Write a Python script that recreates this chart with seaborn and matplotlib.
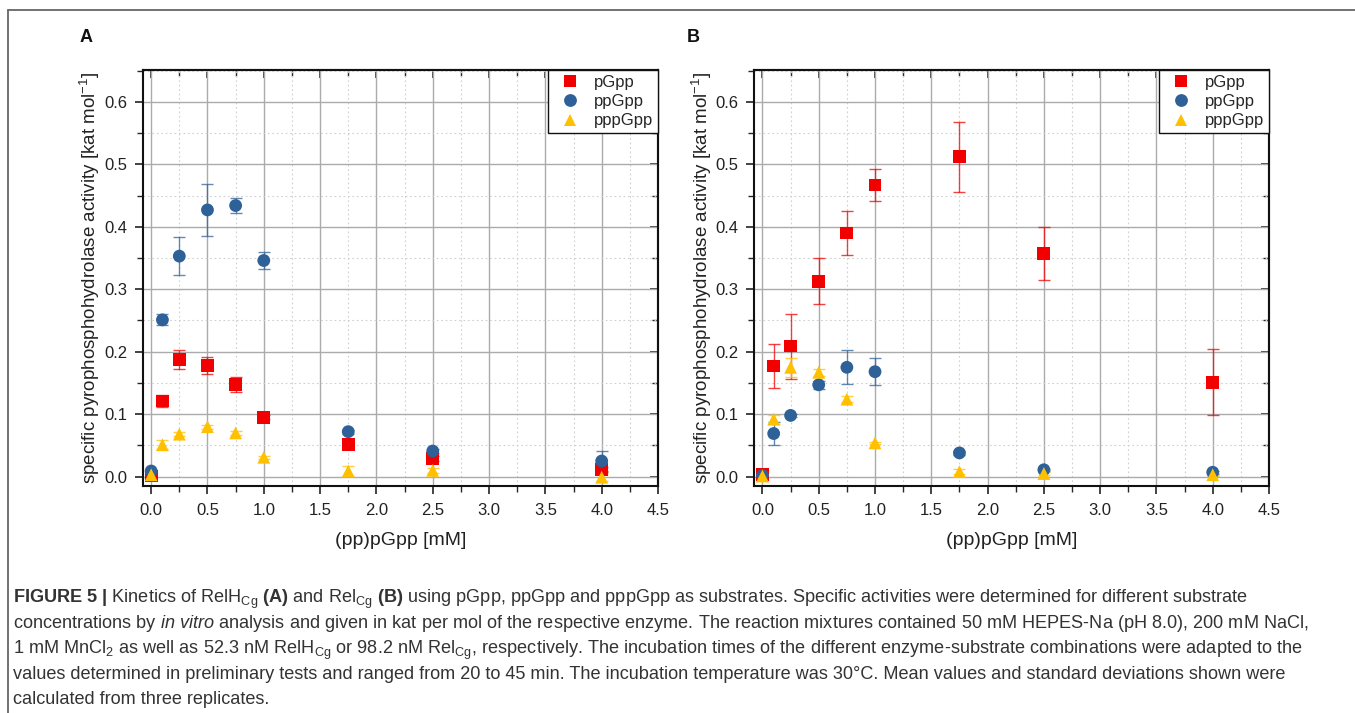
import numpy as np
import pandas as pd
import matplotlib
matplotlib.use("Agg")
import matplotlib.pyplot as plt
from matplotlib.ticker import MultipleLocator
from matplotlib.lines import Line2D
from matplotlib import font_manager
import seaborn as sns

# ---------------- data ----------------
conc = [0, 0.1, 0.25, 0.5, 0.75, 1.0, 1.75, 2.5, 4.0]
substrates = ["pGpp", "ppGpp", "pppGpp"]

A_pGpp = [0.001, 0.121, 0.187, 0.178, 0.148, 0.095, 0.051, 0.029, 0.012]
A_pGpp_sd = [0.002, 0.009, 0.015, 0.014, 0.012, 0.003, 0.005, 0.004, 0.004]
A_ppGpp = [0.009, 0.251, 0.353, 0.427, 0.434, 0.346, 0.072, 0.041, 0.025]
A_ppGpp_sd = [0.002, 0.009, 0.030, 0.041, 0.012, 0.014, 0.003, 0.003, 0.016]
A_pppGpp = [0.003, 0.051, 0.068, 0.080, 0.070, 0.031, 0.009, 0.010, -0.001]
A_pppGpp_sd = [0.002, 0.007, 0.003, 0.003, 0.003, 0.002, 0.008, 0.004, 0.006]

B_pGpp = [0.003, 0.177, 0.209, 0.313, 0.390, 0.467, 0.512, 0.357, 0.151]
B_pGpp_sd = [0.002, 0.035, 0.052, 0.037, 0.035, 0.025, 0.056, 0.043, 0.053]
B_ppGpp = [0.002, 0.069, 0.098, 0.147, 0.175, 0.168, 0.038, 0.011, 0.007]
B_ppGpp_sd = [0.001, 0.018, 0.003, 0.006, 0.027, 0.022, 0.003, 0.002, 0.002]
B_pppGpp = [0.001, 0.092, 0.175, 0.167, 0.124, 0.054, 0.008, 0.005, 0.003]
B_pppGpp_sd = [0.001, 0.007, 0.015, 0.006, 0.005, 0.002, 0.004, 0.002, 0.002]

x_ticks = [0.0, 0.5, 1.0, 1.5, 2.0, 2.5, 3.0, 3.5, 4.0, 4.5]
y_ticks = [0.0, 0.1, 0.2, 0.3, 0.4, 0.5, 0.6]

xlabel = "(pp)pGpp [mM]"
ylabel = "specific pyrophosphohydrolase activity [kat mol$^{-1}$]"

caption_lines = [
    r"$\mathbf{FIGURE\ 5\ |}$ Kinetics of RelH$_{\mathrm{Cg}}$ $\mathbf{(A)}$ and Rel$_{\mathrm{Cg}}$ $\mathbf{(B)}$ using pGpp, ppGpp and pppGpp as substrates. Specific activities were determined for different substrate",
    r"concentrations by $\mathit{in\ vitro}$ analysis and given in kat per mol of the respective enzyme. The reaction mixtures contained 50 mM HEPES-Na (pH 8.0), 200 mM NaCl,",
    r"1 mM MnCl$_{2}$ as well as 52.3 nM RelH$_{\mathrm{Cg}}$ or 98.2 nM Rel$_{\mathrm{Cg}}$, respectively. The incubation times of the different enzyme-substrate combinations were adapted to the",
    "values determined in preliminary tests and ranged from 20 to 45 min. The incubation temperature was 30°C. Mean values and standard deviations shown were",
    "calculated from three replicates.",
]

colors = {"pGpp": "#F20000", "ppGpp": "#2F6199", "pppGpp": "#FFC000"}
markers = {"pGpp": "s", "ppGpp": "o", "pppGpp": "^"}


def make_df(p, ps, pp, pps, ppp, ppps):
    rows = []
    for name, vals, sds in [("pGpp", p, ps), ("ppGpp", pp, pps), ("pppGpp", ppp, ppps)]:
        for c, v, s in zip(conc, vals, sds):
            rows.append({"conc": c, "activity": v, "sd": s, "substrate": name})
    return pd.DataFrame(rows)


dfA = make_df(A_pGpp, A_pGpp_sd, A_ppGpp, A_ppGpp_sd, A_pppGpp, A_pppGpp_sd)
dfB = make_df(B_pGpp, B_pGpp_sd, B_ppGpp, B_ppGpp_sd, B_pppGpp, B_pppGpp_sd)

# ---------------- style ----------------
sns.set_theme(style="white")
base_font = "Liberation Sans"
plt.rcParams["font.family"] = [base_font, "DejaVu Sans"]
cap_font = base_font
plt.rcParams["mathtext.fontset"] = "custom"
plt.rcParams["mathtext.rm"] = cap_font
plt.rcParams["mathtext.bf"] = cap_font + ":bold"
plt.rcParams["mathtext.it"] = cap_font + ":italic"

W, H = 1355, 713
fig = plt.figure(figsize=(W / 100, H / 100), dpi=100)
fig.patch.set_facecolor("white")


def px_axes(l, t, r, b):
    return fig.add_axes([l / W, 1 - b / H, (r - l) / W, (b - t) / H])


axA = px_axes(142.7, 70, 658, 486)
axB = px_axes(754, 70, 1269, 486)

for ax, df, lab, lab_x in [(axA, dfA, "A", 80), (axB, dfB, "B", 687)]:
    ax.set_xlim(-0.075, 4.5)
    ax.set_ylim(-0.015, 0.651)
    # error bars
    for name in substrates:
        d = df[df["substrate"] == name]
        ax.errorbar(d["conc"], d["activity"], yerr=d["sd"], fmt="none",
                    ecolor=colors[name], elinewidth=1.0, capsize=4.5,
                    capthick=1.0, alpha=0.75, zorder=3)
    sns.scatterplot(data=df, x="conc", y="activity", hue="substrate",
                    style="substrate", palette=colors, markers=markers,
                    hue_order=substrates, style_order=substrates,
                    s=85, linewidth=0, ax=ax, zorder=4)
    ax.set_xticks(x_ticks)
    ax.set_yticks(y_ticks)
    ax.xaxis.set_minor_locator(MultipleLocator(0.25))
    ax.yaxis.set_minor_locator(MultipleLocator(0.05))
    ax.set_xticklabels([f"{v:.1f}" for v in x_ticks])
    ax.set_yticklabels([f"{v:.1f}" for v in y_ticks])
    ax.grid(True, which="major", color="#ababab", linewidth=1.0, linestyle="-")
    ax.grid(True, which="minor", color="#cfcfcf", linewidth=0.8, linestyle=(0, (1.5, 2.5)))
    ax.set_axisbelow(True)
    ax.tick_params(axis="both", which="major", direction="out", length=6,
                   width=1.2, labelsize=12, pad=6, colors="#222222",
                   bottom=True, left=True)
    ax.tick_params(axis="y", which="major", pad=5)
    ax.tick_params(axis="both", which="minor", direction="out", length=4,
                   width=1.0, bottom=True, left=True)
    for sp in ax.spines.values():
        sp.set_visible(True)
        sp.set_linewidth(1.5)
        sp.set_color("#111111")
    # inward ticks on top/right
    secx = ax.secondary_xaxis("top")
    secx.xaxis.set_major_locator(MultipleLocator(0.5))
    secx.xaxis.set_minor_locator(MultipleLocator(0.25))
    secx.tick_params(which="major", direction="in", length=6, width=1.2, labeltop=False)
    secx.tick_params(which="minor", direction="in", length=4, width=1.0)
    secx.spines["top"].set_linewidth(1.5)
    secy = ax.secondary_yaxis("right")
    secy.yaxis.set_major_locator(MultipleLocator(0.1))
    secy.yaxis.set_minor_locator(MultipleLocator(0.05))
    secy.tick_params(which="major", direction="in", length=6, width=1.2, labelright=False)
    secy.tick_params(which="minor", direction="in", length=4, width=1.0)
    secy.spines["right"].set_linewidth(1.5)

    ax.set_xlabel(xlabel, fontsize=14, color="#222222", labelpad=10)
    ax.set_ylabel(ylabel, fontsize=13.5, color="#222222", labelpad=1.5)

    sns.move_legend(ax, "upper right", bbox_to_anchor=(1, 1), title=None,
                    frameon=True, fancybox=False, borderaxespad=0,
                    prop={"size": 12}, handletextpad=0.45, borderpad=0.3,
                    labelspacing=0.25, markerscale=1.0)
    leg = ax.get_legend()
    leg.get_frame().set_edgecolor("#111111")
    leg.get_frame().set_linewidth(1.0)
    leg.get_frame().set_alpha(1)
    leg.set_zorder(10)

    fig.text(lab_x / W, 1 - 37 / H, lab, fontsize=13, fontweight="bold",
             ha="left", va="center", color="#111111")

# ---------------- outer frame ----------------
fig.add_artist(Line2D([8 / W, 1], [1 - 10 / H, 1 - 10 / H], color="#666666",
                      linewidth=1.3, transform=fig.transFigure))
fig.add_artist(Line2D([8 / W, 8 / W], [0, 1 - 10 / H], color="#666666",
                      linewidth=1.3, transform=fig.transFigure))

# ---------------- caption ----------------
baselines = [603, 628, 654, 679, 704]
ref_total_width = 5082  # summed pixel widths of the first four caption lines
renderer = fig.canvas.get_renderer()
cap_size = 11.0
texts = []
for line, yb in zip(caption_lines, baselines):
    texts.append(fig.text(13 / W, 1 - yb / H, line, fontsize=cap_size,
                          family=cap_font, ha="left", va="baseline",
                          color="#333333"))
tot = sum(t.get_window_extent(renderer=renderer).width for t in texts[:4])
cap_size = cap_size * ref_total_width / tot
for t in texts:
    t.set_fontsize(cap_size)

fig.savefig("out.png", dpi=100, facecolor="white")
